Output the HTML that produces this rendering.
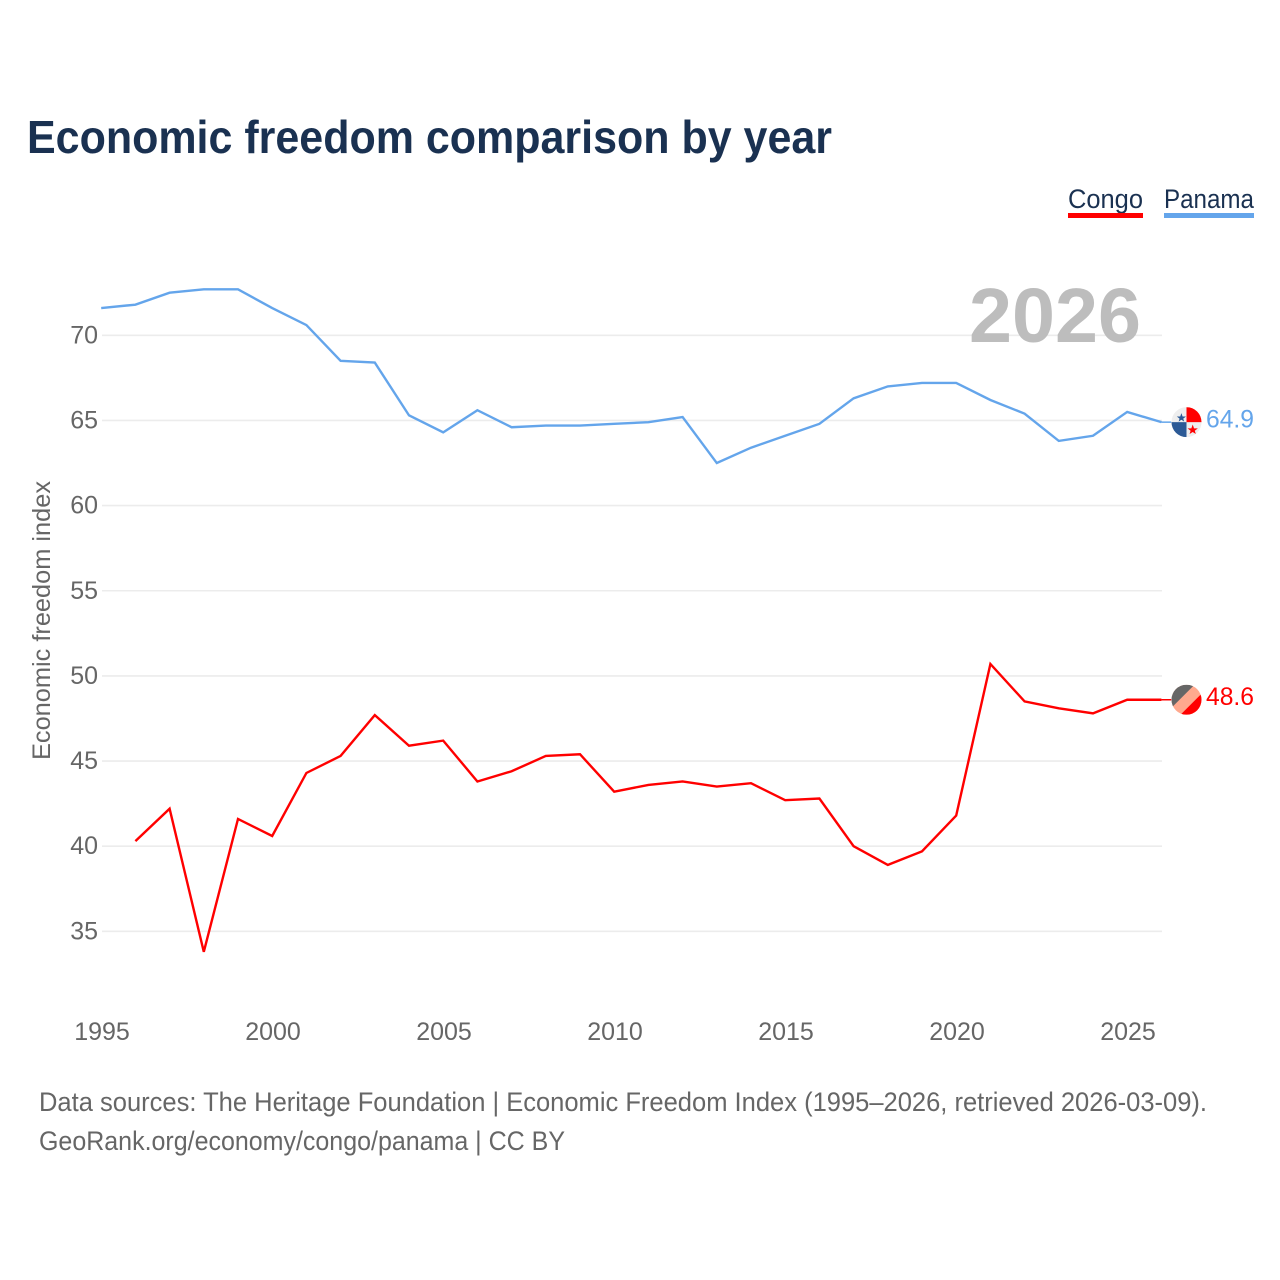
<!DOCTYPE html>
<html lang="en">
<head>
<meta charset="utf-8">
<title>Economic freedom comparison by year</title>
<style>
html,body{margin:0;padding:0;background:#fff;}
svg{display:block;font-family:"Liberation Sans",sans-serif;}
</style>
</head>
<body>
<svg id="chart" width="1280" height="1280" viewBox="0 0 1280 1280" xmlns="http://www.w3.org/2000/svg">
  <rect width="1280" height="1280" fill="#fff"/>
  <text x="27" y="153" font-size="46" font-weight="700" fill="#1a3151" textLength="805" lengthAdjust="spacingAndGlyphs">Economic freedom comparison by year</text>

  <g>
    <text x="1068" y="208" font-size="27" fill="#1a3151" textLength="75" lengthAdjust="spacingAndGlyphs">Congo</text>
    <rect x="1068" y="213" width="75" height="5" fill="#ff0000"/>
  </g>
  <g>
    <text x="1164" y="208" font-size="27" fill="#1a3151" textLength="90" lengthAdjust="spacingAndGlyphs">Panama</text>
    <rect x="1164" y="213" width="90" height="5" fill="#64a5eb"/>
  </g>

  <g id="grid"></g>
  <text x="969" y="342" font-size="77" font-weight="700" fill="#bdbdbd" textLength="172" lengthAdjust="spacingAndGlyphs">2026</text>
  <g id="yticks"></g>
  <g id="xticks"></g>
  <text transform="translate(50,760) rotate(-90)" font-size="25" fill="#666" textLength="279" lengthAdjust="spacingAndGlyphs">Economic freedom index</text>

  <g id="series" transform="translate(-0.8,0)"></g>

  <defs>
    <clipPath id="flag-clip"><circle cx="0" cy="0" r="15"/></clipPath>
  </defs>
  <g id="flag-panama">
    <g clip-path="url(#flag-clip)">
      <rect x="-15" y="-15" width="30" height="30" fill="#eeeeee"/>
      <rect x="0" y="-15" width="15" height="15" fill="#ff0000"/>
      <rect x="-15" y="0" width="15" height="15" fill="#2c5a96"/>
      <polygon points="-6,-10 -4.6,-6 -0.6,-6 -3.8,-3.5 -2.7,0 -6,-2.2 -9.3,0 -8.2,-3.5 -11.4,-6 -7.4,-6" transform="translate(0,-0.5) scale(0.85)" fill="#2c5a96"/>
      <polygon points="6,2 7.4,6 11.4,6 8.2,8.5 9.3,12 6,9.8 2.7,12 3.8,8.5 0.6,6 4.6,6" transform="translate(0.5,0.5) scale(0.95)" fill="#ff0000"/>
    </g>
  </g>
  <g id="flag-congo">
    <g clip-path="url(#flag-clip)">
      <rect x="-15" y="-15" width="30" height="30" fill="#ffa98e"/>
      <polygon points="-15,-15 8,-15 -15,8" fill="#666666"/>
      <polygon points="15,15 -6,15 15,-6" fill="#ff0000"/>
    </g>
  </g>
  <text id="value-panama" x="1206" font-size="25" fill="#64a5eb" textLength="48" lengthAdjust="spacingAndGlyphs"></text>
  <text id="value-congo" x="1206" font-size="25" fill="#ff0000" textLength="48" lengthAdjust="spacingAndGlyphs"></text>

  <text x="39" y="1111" font-size="27" fill="#666" textLength="1168" lengthAdjust="spacingAndGlyphs">Data sources: The Heritage Foundation | Economic Freedom Index (1995–2026, retrieved 2026-03-09).</text>
  <text x="39" y="1150" font-size="27" fill="#666" textLength="526" lengthAdjust="spacingAndGlyphs">GeoRank.org/economy/congo/panama | CC BY</text>
</svg>

<script>
const panamaYears = [1995,1996,1997,1998,1999,2000,2001,2002,2003,2004,2005,2006,2007,2008,2009,2010,2011,2012,2013,2014,2015,2016,2017,2018,2019,2020,2021,2022,2023,2024,2025,2026];
const panamaValues = [71.6,71.8,72.5,72.7,72.7,71.6,70.6,68.5,68.4,65.3,64.3,65.6,64.6,64.7,64.7,64.8,64.9,65.2,62.5,63.4,64.1,64.8,66.3,67.0,67.2,67.2,66.2,65.4,63.8,64.1,65.5,64.9];
const congoYears = [1996,1997,1998,1999,2000,2001,2002,2003,2004,2005,2006,2007,2008,2009,2010,2011,2012,2013,2014,2015,2016,2017,2018,2019,2020,2021,2022,2023,2024,2025,2026];
const congoValues = [40.3,42.2,33.8,41.6,40.6,44.3,45.3,47.7,45.9,46.2,43.8,44.4,45.3,45.4,43.2,43.6,43.8,43.5,43.7,42.7,42.8,40.0,38.9,39.7,41.8,50.7,48.5,48.1,47.8,48.6,48.6];
const yTickValues = [70,65,60,55,50,45,40,35];
const xTickValues = [1995,2000,2005,2010,2015,2020,2025];

const NS = 'http://www.w3.org/2000/svg';
const xScale = function (year) { return 102 + (year - 1995) * 34.2; };
const yScale = function (value) { return 335.3 + (70 - value) * 17.03; };

const grid = document.getElementById('grid');
const yticks = document.getElementById('yticks');
const xticks = document.getElementById('xticks');
const series = document.getElementById('series');

yTickValues.forEach(function (value) {
  const line = document.createElementNS(NS, 'line');
  
  
  line.setAttribute('x1', 102);
  line.setAttribute('x2', 1162);
  line.setAttribute('y1', yScale(value));
  line.setAttribute('y2', yScale(value));
  line.setAttribute('stroke', '#ececec');
  line.setAttribute('stroke-width', 1.6);
  grid.appendChild(line);

  const label = document.createElementNS(NS, 'text');
  
  
  label.setAttribute('x', 98);
  label.setAttribute('y', yScale(value) + 8);
  label.setAttribute('text-anchor', 'end');
  label.setAttribute('font-size', 25);
  label.setAttribute('fill', '#666');
  label.textContent = value;
  yticks.appendChild(label);
});

xTickValues.forEach(function (year) {
  const label = document.createElementNS(NS, 'text');
  
  
  label.setAttribute('x', xScale(year));
  label.setAttribute('y', 1040);
  label.setAttribute('text-anchor', 'middle');
  label.setAttribute('font-size', 25);
  label.setAttribute('fill', '#666');
  label.textContent = year;
  xticks.appendChild(label);
});

function pointsFor(years, values) {
  return years.map(function (year, i) {
    return xScale(year).toFixed(2) + ',' + yScale(values[i]).toFixed(2);
  }).join(' ');
}

const congoLine = document.createElementNS(NS, 'polyline');


congoLine.setAttribute('points', pointsFor(congoYears, congoValues));
congoLine.setAttribute('fill', 'none');
congoLine.setAttribute('stroke', '#ff0000');
congoLine.setAttribute('stroke-width', 2.4);
series.appendChild(congoLine);

const panamaLine = document.createElementNS(NS, 'polyline');


panamaLine.setAttribute('points', pointsFor(panamaYears, panamaValues));
panamaLine.setAttribute('fill', 'none');
panamaLine.setAttribute('stroke', '#64a5eb');
panamaLine.setAttribute('stroke-width', 2.4);
series.appendChild(panamaLine);

const lastPanama = panamaValues[panamaValues.length - 1];
const lastCongo = congoValues[congoValues.length - 1];

const tailPanama = document.createElementNS(NS, 'line');


tailPanama.setAttribute('x1', 1162);
tailPanama.setAttribute('x2', 1172);
tailPanama.setAttribute('y1', yScale(lastPanama));
tailPanama.setAttribute('y2', yScale(lastPanama));
tailPanama.setAttribute('stroke', '#64a5eb');
tailPanama.setAttribute('stroke-width', 1.5);
series.appendChild(tailPanama);

const tailCongo = document.createElementNS(NS, 'line');


tailCongo.setAttribute('x1', 1162);
tailCongo.setAttribute('x2', 1172);
tailCongo.setAttribute('y1', yScale(lastCongo));
tailCongo.setAttribute('y2', yScale(lastCongo));
tailCongo.setAttribute('stroke', '#ff0000');
tailCongo.setAttribute('stroke-width', 1.5);
series.appendChild(tailCongo);

document.getElementById('flag-panama').setAttribute('transform', 'translate(1186.5,' + yScale(lastPanama).toFixed(2) + ')');
document.getElementById('flag-congo').setAttribute('transform', 'translate(1186.5,' + yScale(lastCongo).toFixed(2) + ')');

const valuePanama = document.getElementById('value-panama');
valuePanama.setAttribute('y', yScale(lastPanama) + 5.5);
valuePanama.textContent = lastPanama.toFixed(1);

const valueCongo = document.getElementById('value-congo');
valueCongo.setAttribute('y', yScale(lastCongo) + 5.5);
valueCongo.textContent = lastCongo.toFixed(1);
</script>
</body>
</html>
